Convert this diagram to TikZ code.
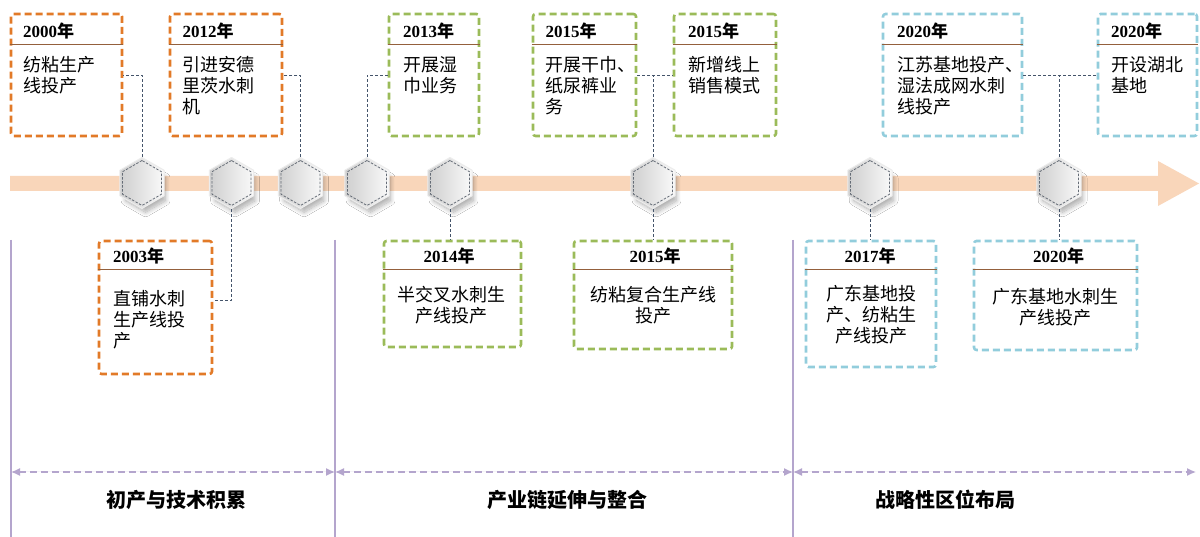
\documentclass[tikz,border=0pt]{standalone}
\usepackage{fontspec}
\setmainfont{Liberation Serif}
\newfontfamily\cjk{Noto Sans CJK SC}
\usepackage{tikz}
\usetikzlibrary{arrows,arrows.meta,shapes,shadows.blur}

\definecolor{bandcol}{RGB}{249,214,186}
\definecolor{orangecol}{RGB}{226,122,40}
\definecolor{greencol}{RGB}{155,187,89}
\definecolor{bluecol}{RGB}{146,205,220}
\definecolor{headcol}{RGB}{148,96,60}
\definecolor{conncol}{RGB}{68,84,106}
\definecolor{spancol}{RGB}{180,165,205}

\newcommand{\yearmark}[1]{\textbf{#1}{\cjk\bfseries 年}}

\begin{document}
\begin{tikzpicture}[>=latex',line join=bevel,
  evbox/.style={draw=#1,line width=2.6bp,dash pattern=on 7bp off 4bp,rounded corners=2.5bp,fill=white,inner sep=0pt},
  headline/.style={draw=headcol,line width=1.1bp},
  yearl/.style={anchor=base west,inner sep=0pt,font=\fontsize{17bp}{20bp}\selectfont},
  yearc/.style={anchor=base,inner sep=0pt,font=\fontsize{17bp}{20bp}\selectfont},
  textl/.style={anchor=north west,align=left,inner sep=0pt,font=\cjk\fontsize{18bp}{21bp}\selectfont},
  textc/.style={anchor=north,align=center,inner sep=0pt,font=\cjk\fontsize{18bp}{21bp}\selectfont},
  hexnode/.style={regular polygon,regular polygon sides=6,shape border rotate=30,minimum size=51bp,inner sep=0pt,
    draw=gray!15,line width=1bp,left color=gray!38,right color=gray!4,
    blur shadow={shadow xshift=4bp,shadow yshift=-7bp,shadow scale=0.9,shadow blur radius=5bp,shadow blur steps=12,shadow opacity=32},
    path picture={\draw[gray!55!conncol,line width=0.8bp,dash pattern=on 2.5bp off 1.5bp,shift={(path picture bounding box.center)}]
      (90:22.5bp) -- (150:22.5bp) -- (210:22.5bp) -- (270:22.5bp) -- (330:22.5bp) -- (30:22.5bp) -- cycle;}},
  conn/.style={draw=conncol,line width=0.8bp,dash pattern=on 3bp off 2bp},
  divider/.style={draw=spancol,line width=1.5bp},
  spanarrow/.style={{Latex[length=9bp,width=8bp]}-{Latex[length=9bp,width=8bp]},draw=spancol,fill=spancol,line width=1.3bp,dash pattern=on 7bp off 4bp},
  phase/.style={font=\cjk\bfseries\fontsize{20bp}{24bp}\selectfont,inner sep=0pt}]
%%
\useasboundingbox (0bp,0bp) rectangle (1200bp,537bp);
\begin{scope}
  \definecolor{fillcol}{rgb}{1.0,1.0,1.0};
  \pgfsetfillcolor{fillcol}
  \fill (0.0bp,0.0bp) -- (0.0bp,537.0bp) -- (1200.0bp,537.0bp) -- (1200.0bp,0.0bp) -- cycle;
\end{scope}
  \fill [bandcol] (10bp,346bp) -- (1158bp,346bp) -- (1158bp,331bp) -- (1199bp,353.5bp) -- (1158bp,376bp) -- (1158bp,361bp) -- (10bp,361bp) -- cycle;
%
  \node (h1) at (142.0bp,354.0bp) [hexnode] {};
  \node (h2) at (231.5bp,354.0bp) [hexnode] {};
  \node (h3) at (300.5bp,354.0bp) [hexnode] {};
  \node (h4) at (367.0bp,354.0bp) [hexnode] {};
  \node (h5) at (450.0bp,354.0bp) [hexnode] {};
  \node (h6) at (653.0bp,354.0bp) [hexnode] {};
  \node (h7) at (870.0bp,354.0bp) [hexnode] {};
  \node (h8) at (1059.0bp,354.0bp) [hexnode] {};
%
  \node (b2000) at (66.5bp,462.0bp) [evbox=orangecol,minimum width=111bp,minimum height=122bp] {};
  \node (b2012) at (226.0bp,462.0bp) [evbox=orangecol,minimum width=112bp,minimum height=122bp] {};
  \node (b2003) at (155.5bp,229.5bp) [evbox=orangecol,minimum width=113bp,minimum height=133bp] {};
  \node (b2013) at (434.0bp,462.0bp) [evbox=greencol,minimum width=90bp,minimum height=122bp] {};
  \node (b2015a) at (584.5bp,462.0bp) [evbox=greencol,minimum width=103bp,minimum height=122bp] {};
  \node (b2015b) at (725.0bp,462.0bp) [evbox=greencol,minimum width=102bp,minimum height=122bp] {};
  \node (b2014) at (452.5bp,243.0bp) [evbox=greencol,minimum width=137bp,minimum height=106bp] {};
  \node (b2015c) at (653.0bp,242.0bp) [evbox=greencol,minimum width=158bp,minimum height=108bp] {};
  \node (b2020a) at (952.5bp,462.0bp) [evbox=bluecol,minimum width=139bp,minimum height=122bp] {};
  \node (b2020b) at (1147.5bp,462.0bp) [evbox=bluecol,minimum width=99bp,minimum height=122bp] {};
  \node (b2017) at (871.0bp,233.0bp) [evbox=bluecol,minimum width=130bp,minimum height=126bp] {};
  \node (b2020c) at (1055.5bp,241.5bp) [evbox=bluecol,minimum width=163bp,minimum height=109bp] {};
%
  \draw [headline] ([yshift=-32bp]b2000.north west) -- ([yshift=-32bp]b2000.north east);
  \draw [headline] ([yshift=-32bp]b2012.north west) -- ([yshift=-32bp]b2012.north east);
  \draw [headline] ([yshift=-30bp]b2003.north west) -- ([yshift=-30bp]b2003.north east);
  \draw [headline] ([yshift=-32bp]b2013.north west) -- ([yshift=-32bp]b2013.north east);
  \draw [headline] ([yshift=-32bp]b2015a.north west) -- ([yshift=-32bp]b2015a.north east);
  \draw [headline] ([yshift=-32bp]b2015b.north west) -- ([yshift=-32bp]b2015b.north east);
  \draw [headline] ([yshift=-30bp]b2014.north west) -- ([yshift=-30bp]b2014.north east);
  \draw [headline] ([yshift=-30bp]b2015c.north west) -- ([yshift=-30bp]b2015c.north east);
  \draw [headline] ([yshift=-32bp]b2020a.north west) -- ([yshift=-32bp]b2020a.north east);
  \draw [headline] ([yshift=-32bp]b2020b.north west) -- ([yshift=-32bp]b2020b.north east);
  \draw [headline] ([yshift=-30bp]b2017.north west) -- ([yshift=-30bp]b2017.north east);
  \draw [headline] ([yshift=-30bp]b2020c.north west) -- ([yshift=-30bp]b2020c.north east);
%
  \node (y2000) at (23.0bp,499.0bp) [yearl] {\yearmark{2000}};
  \node (y2012) at (182.5bp,499.0bp) [yearl] {\yearmark{2012}};
  \node (y2003) at (113.0bp,274.0bp) [yearl] {\yearmark{2003}};
  \node (y2013) at (403.0bp,499.0bp) [yearl] {\yearmark{2013}};
  \node (y2015a) at (545.5bp,499.0bp) [yearl] {\yearmark{2015}};
  \node (y2015b) at (688.0bp,499.0bp) [yearl] {\yearmark{2015}};
  \node (y2014) at (449.0bp,274.0bp) [yearc] {\yearmark{2014}};
  \node (y2015c) at (655.0bp,274.0bp) [yearc] {\yearmark{2015}};
  \node (y2020a) at (897.0bp,499.0bp) [yearl] {\yearmark{2020}};
  \node (y2020b) at (1111.0bp,499.0bp) [yearl] {\yearmark{2020}};
  \node (y2017) at (870.0bp,274.0bp) [yearc] {\yearmark{2017}};
  \node (y2020c) at (1058.5bp,274.0bp) [yearc] {\yearmark{2020}};
%
  \node (t2000) at (23.0bp,480.5bp) [textl] {纺粘生产\\线投产};
  \node (t2012) at (182.5bp,480.5bp) [textl] {引进安德\\里茨水刺\\机};
  \node (t2003) at (113.0bp,246.5bp) [textl] {直铺水刺\\生产线投\\产};
  \node (t2013) at (403.0bp,480.5bp) [textl] {开展湿\\巾业务};
  \node (t2015a) at (545.5bp,480.5bp) [textl] {开展干巾、\\纸尿裤业\\务};
  \node (t2015b) at (688.0bp,480.5bp) [textl] {新增线上\\销售模式};
  \node (t2014) at (451.5bp,250.5bp) [textc] {半交叉水刺生\\产线投产};
  \node (t2015c) at (653.0bp,250.5bp) [textc] {纺粘复合生产线\\投产};
  \node (t2020a) at (897.0bp,480.5bp) [textl] {江苏基地投产、\\湿法成网水刺\\线投产};
  \node (t2020b) at (1111.0bp,480.5bp) [textl] {开设湖北\\基地};
  \node (t2017) at (871.0bp,252.0bp) [textc] {广东基地投\\产、纺粘生\\产线投产};
  \node (t2020c) at (1055.0bp,249.0bp) [textc] {广东基地水刺生\\产线投产};
%
  \draw [conn] (h1.north) |- (b2000.east);
  \draw [conn] (h3.north) |- (b2012.east);
  \draw [conn] (h2.south) |- ([yshift=7bp]b2003.east);
  \draw [conn] (h4.north) |- (b2013.west);
  \draw [conn] (h5.south) -- (h5.south |- b2014.north);
  \draw [conn] (b2015a.east) -- (b2015b.west);
  \draw [conn] (h6.north) -- (h6.north |- b2015a.east);
  \draw [conn] (h6.south) -- (h6.south |- b2015c.north);
  \draw [conn] (b2020a.east) -- (b2020b.west);
  \draw [conn] (h8.north) -- (h8.north |- b2020a.east);
  \draw [conn] (h7.south) -- (h7.south |- b2017.north);
  \draw [conn] (h8.south) -- (h8.south |- b2020c.north);
%
  \coordinate (d0) at (11.0bp,297.0bp);
  \coordinate (d1) at (335.0bp,297.0bp);
  \coordinate (d2) at (793.0bp,297.0bp);
  \coordinate (e0) at (11.0bp,0.0bp);
  \coordinate (e1) at (335.0bp,0.0bp);
  \coordinate (e2) at (793.0bp,0.0bp);
  \coordinate (p0) at (11.0bp,65.0bp);
  \coordinate (p1) at (335.0bp,65.0bp);
  \coordinate (p2) at (793.0bp,65.0bp);
  \coordinate (p3) at (1196.0bp,65.0bp);
  \draw [divider] (d0) -- (e0);
  \draw [divider] (d1) -- (e1);
  \draw [divider] (d2) -- (e2);
  \draw [spanarrow] (p0) -- (p1);
  \draw [spanarrow] (p1) -- (p2);
  \draw [spanarrow] (p2) -- (p3);
%
  \node (ph1) at (176.0bp,37.0bp) [phase] {初产与技术积累};
  \node (ph2) at (567.0bp,37.0bp) [phase] {产业链延伸与整合};
  \node (ph3) at (945.0bp,37.0bp) [phase] {战略性区位布局};
%
\end{tikzpicture}
\end{document}
